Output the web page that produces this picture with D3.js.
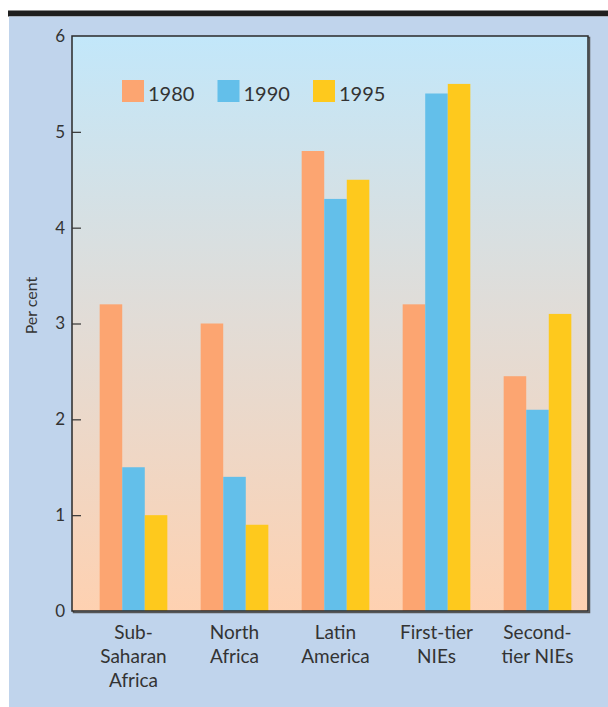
<!DOCTYPE html>
<html>
<head>
<meta charset="utf-8">
<script src="https://cdn.jsdelivr.net/npm/d3@7"></script>
<style>
  html, body { margin: 0; padding: 0; background: #ffffff; }
  svg { display: block; }
  text { font-family: Lato, "Open Sans", sans-serif; fill: #333; }
</style>
</head>
<body>
<svg id="chart" width="608" height="707"></svg>
<script>
// Region labels (each split into display lines)
const categories = ["Sub-Saharan Africa", "North Africa", "Latin America", "First-tier NIEs", "Second-tier NIEs"];
const categoryLines = [["Sub-", "Saharan", "Africa"], ["North", "Africa"], ["Latin", "America"], ["First-tier", "NIEs"], ["Second-", "tier NIEs"]];
const years = ["1980", "1990", "1995"];

// Per cent values for each region, one array per year
const values1980 = [3.2, 3.0, 4.8, 3.2, 2.45];
const values1990 = [1.5, 1.4, 4.3, 5.4, 2.1];
const values1995 = [1.0, 0.9, 4.5, 5.5, 3.1];

const yTicks = [0, 1, 2, 3, 4, 5, 6];
const yLabel = "Per cent";

const colors = { "1980": "#fca571", "1990": "#63bfea", "1995": "#fec91d" };
const seriesByYear = { "1980": values1980, "1990": values1990, "1995": values1995 };

const svg = d3.select("#chart");

// Background frame: dark rule on top, blue-grey panel below
svg.append("rect").attr("x", 8).attr("y", 10.5).attr("width", 600).attr("height", 6).attr("fill", "#1f1f1f");
svg.append("rect").attr("x", 9).attr("y", 16.5).attr("width", 599).attr("height", 690.5).attr("fill", "#c0d4ec");

const plot = { left: 72, right: 588, top: 36, bottom: 611 };

const y = d3.scaleLinear().domain([0, 6]).range([plot.bottom, plot.top]);
const x = d3.scaleBand().domain(categories).range([83, plot.right]).paddingInner(0.33).paddingOuter(0.165);
const xInner = d3.scaleBand().domain(years).range([0, x.bandwidth()]).padding(0);

// Vertical gradient fill of the plotting area
const defs = svg.append("defs");
const grad = defs.append("linearGradient").attr("id", "bg").attr("x1", 0).attr("y1", 0).attr("x2", 0).attr("y2", 1);
grad.append("stop").attr("offset", "0%").attr("stop-color", "#c2e7fa");
grad.append("stop").attr("offset", "50%").attr("stop-color", "#e2dcd6");
grad.append("stop").attr("offset", "100%").attr("stop-color", "#fed1b1");

// Shadow at right and bottom of the frame
svg.append("rect")
  .attr("x", plot.left + 1.5).attr("y", plot.top + 1.5)
  .attr("width", plot.right - plot.left).attr("height", plot.bottom - plot.top)
  .attr("fill", "none").attr("stroke", "#555").attr("stroke-width", 1.5);

svg.append("rect")
  .attr("x", plot.left).attr("y", plot.top)
  .attr("width", plot.right - plot.left).attr("height", plot.bottom - plot.top)
  .attr("fill", "url(#bg)");

// Bars
const rows = categories.map((c, i) => ({ cat: c, vals: years.map(yr => ({ year: yr, value: seriesByYear[yr][i] })) }));
const groups = svg.append("g").selectAll("g").data(rows).join("g")
  .attr("transform", d => `translate(${x(d.cat)},0)`);
groups.selectAll("rect").data(d => d.vals).join("rect")
  .attr("x", d => xInner(d.year))
  .attr("y", d => y(d.value))
  .attr("width", xInner.bandwidth())
  .attr("height", d => y(0) - y(d.value))
  .attr("fill", d => colors[d.year]);

// Frame
svg.append("rect")
  .attr("x", plot.left).attr("y", plot.top)
  .attr("width", plot.right - plot.left).attr("height", plot.bottom - plot.top)
  .attr("fill", "none").attr("stroke", "#2a2a2a").attr("stroke-width", 1.5);

// Y axis with inward ticks
const yAxis = d3.axisLeft(y).tickValues(yTicks).tickSizeInner(-9).tickSizeOuter(0).tickPadding(16).tickFormat(d3.format("d"));
const ga = svg.append("g").attr("transform", `translate(${plot.left},0)`).call(yAxis);
ga.select(".domain").remove();
ga.attr("font-size", null).attr("font-family", null);
ga.selectAll(".tick line").attr("stroke", "#333").attr("stroke-width", 1.2)
  .attr("display", d => (d === 0 || d === 6) ? "none" : null);
ga.selectAll(".tick text").style("font-size", "17px").attr("fill", "#333")
  .attr("x", -7).attr("dx", 0);

svg.append("text")
  .attr("transform", `translate(37,${(plot.top + plot.bottom) / 2 - 18}) rotate(-90)`)
  .attr("text-anchor", "middle").style("font-size", "16px").text(yLabel);

// Category labels
categories.forEach((c, i) => {
  const cx = x(c) + x.bandwidth() / 2;
  const t = svg.append("text").attr("text-anchor", "middle").style("font-size", "19px");
  categoryLines[i].forEach((line, j) => {
    t.append("tspan").attr("x", cx).attr("y", 639 + j * 24).text(line);
  });
});

// Legend
const legend = svg.append("g");
years.forEach((yr, i) => {
  const lx = 122 + i * 95.5;
  legend.append("rect").attr("x", lx).attr("y", 80).attr("width", 22).attr("height", 22).attr("fill", colors[yr]);
  legend.append("text").attr("x", lx + 26).attr("y", 101).style("font-size", "20px").text(yr);
});
</script>
</body>
</html>
